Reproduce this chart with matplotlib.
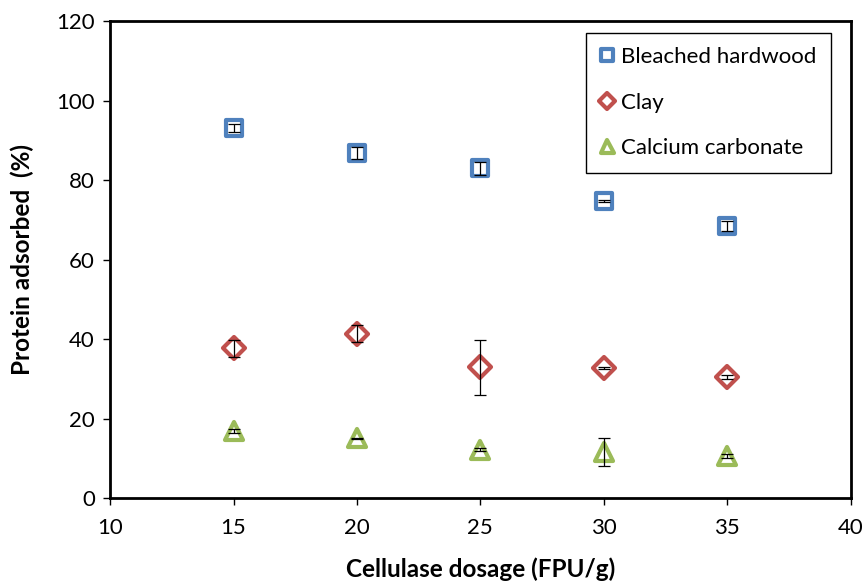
import matplotlib
matplotlib.use("Agg")
import matplotlib.pyplot as plt
from matplotlib.markers import MarkerStyle

plt.rcParams['font.family'] = ['Lato', 'DejaVu Sans']

dosage = [15, 20, 25, 30, 35]

hardwood = [93.1, 86.8, 83.0, 74.7, 68.4]
hardwood_err = [1.1, 1.6, 1.6, 0.3, 1.2]

clay = [37.7, 41.4, 32.9, 32.8, 30.5]
clay_err = [2.1, 2.1, 6.9, 0.3, 0.5]

caco3 = [16.9, 15.0, 12.2, 11.5, 10.6]
caco3_err = [0.5, 0.2, 0.3, 3.5, 0.5]

series = [
    ("Bleached hardwood", hardwood, hardwood_err, 's', '#4F81BD', 11.5),
    ("Clay", clay, clay_err, 'D', '#C0504D', 11.5),
    ("Calcium carbonate", caco3, caco3_err, '^', '#9BBB59', 13),
]

fig = plt.figure(figsize=(8.67, 5.86), dpi=100)
ax = fig.add_axes([0.127, 0.150, 0.854, 0.814])

for name, vals, errs, mk, col, ms in series:
    ax.plot(dosage, vals, linestyle='none',
            marker=MarkerStyle(mk, joinstyle='round'), markersize=ms,
            markerfacecolor='white', markeredgecolor=col, markeredgewidth=3,
            label=name, zorder=3)
    ax.errorbar(dosage, vals, yerr=errs, fmt='none', ecolor='black',
                elinewidth=0.9, capsize=4.5, capthick=0.9, zorder=4)

ax.set_xlim(10, 40)
ax.set_ylim(0, 120)
ax.set_xticks(range(10, 41, 5))
ax.set_yticks(range(0, 121, 20))
ax.tick_params(direction='out', length=5, width=1, labelsize=16)
ax.tick_params(axis='x', pad=9)
ax.tick_params(axis='y', pad=6)

for sp in ax.spines.values():
    sp.set_linewidth(2)
    sp.set_color('black')

ax.set_xlabel("Cellulase dosage (FPU/g)", fontsize=17.5, fontweight='bold', labelpad=14)
ax.set_ylabel("Protein adsorbed  (%)", fontsize=17.5, fontweight='bold', labelpad=16)

leg = ax.legend(loc='upper right', bbox_to_anchor=(0.974, 0.976), borderaxespad=0,
                fontsize=16, markerscale=0.72, handlelength=0.6, handletextpad=0.35,
                labelspacing=1.15, borderpad=0.65, fancybox=False,
                edgecolor='black', framealpha=1)
leg.get_frame().set_linewidth(1)

fig.savefig("out.png", dpi=100)
